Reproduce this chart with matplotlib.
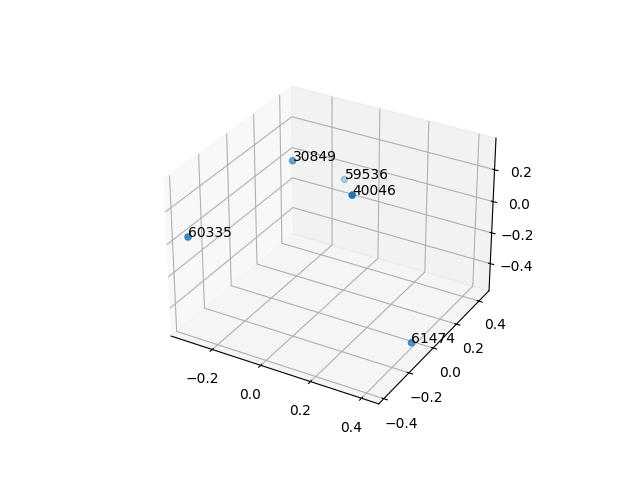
import matplotlib
matplotlib.use("Agg")
from matplotlib import pyplot as plt

labels = ["30849", "59536", "40046", "60335", "61474"]
xs = [-0.1515, -0.116, 0.198, -0.32, 0.413]
ys = [0.0905, 0.434, -0.12, -0.38, -0.07]
zs = [0.26, -0.065, 0.333, 0.03, -0.517]

fig = plt.figure()
ax = fig.add_subplot(projection='3d')
ax.scatter(xs, ys, zs)
for x, y, z, label in zip(xs, ys, zs, labels):
    ax.text(x, y, z, label)

plt.savefig("out.png")
